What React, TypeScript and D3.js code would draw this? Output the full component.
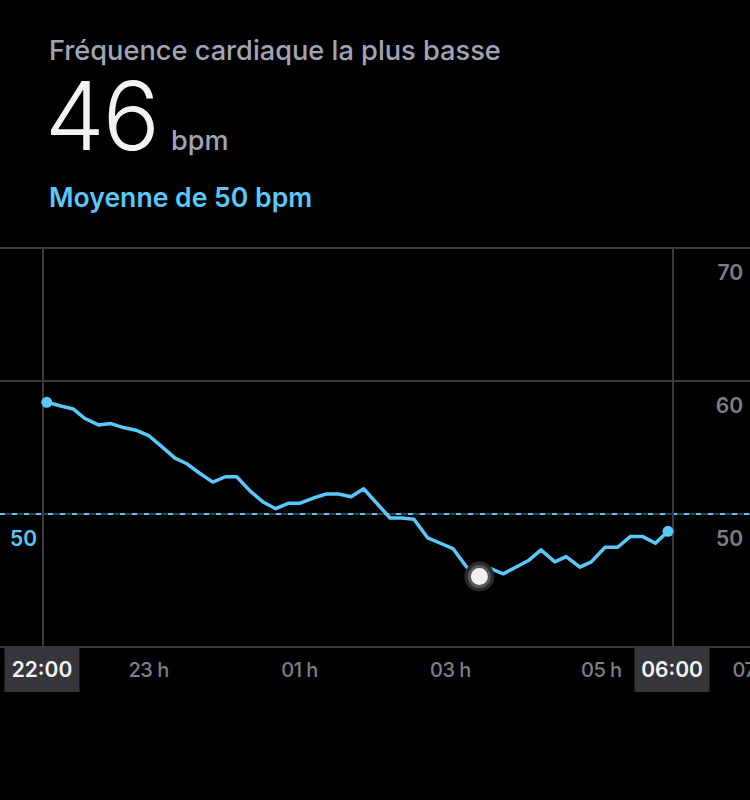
import React from "react";
import * as d3 from "d3";

// minutes after 21:00
const sampleMinutes = [39, 51, 60, 69, 80, 90, 100, 110, 120, 130, 141, 150, 160, 171, 181, 190, 201, 211, 221, 231, 240, 251, 261, 271, 281, 291, 312, 321, 331, 342, 352, 362, 373, 383, 392, 402, 412, 422, 432, 443, 452, 463, 472, 483, 493, 503, 513, 523, 533];
const heartRate = [58.4, 58.1, 57.9, 57.2, 56.7, 56.8, 56.5, 56.3, 55.9, 55.1, 54.2, 53.8, 53.1, 52.4, 52.8, 52.8, 51.7, 50.9, 50.4, 50.8, 50.8, 51.2, 51.5, 51.5, 51.3, 51.9, 49.7, 49.7, 49.6, 48.2, 47.8, 47.4, 46.0, 45.3, 45.9, 45.5, 46.0, 46.5, 47.3, 46.4, 46.8, 46.0, 46.4, 47.5, 47.5, 48.3, 48.3, 47.8, 48.7];

const sessionMinutes = [36, 537];
const sessionLabels = ["22:00", "06:00"];
const hourTickMinutes = [120, 240, 360, 480, 600];
const hourTickLabels = ["23 h", "01 h", "03 h", "05 h", "07 h"];
const gridValues = [40, 50, 60, 70];
const rightLabelValues = [50, 60, 70];
const averageBpm = 50;
const lowestBpm = 46;

const title = "Fréquence cardiaque la plus basse";
const unit = "bpm";
const averageText = "Moyenne de 50 bpm";

const W = 750;
const H = 800;
const BLUE = "#5ac8fa";
const GRID = "#3a3a3e";
const GRAY = "#7e7e84";
const FONT = "Inter, 'Noto Sans', sans-serif";

export default function App() {
  const x = d3.scaleLinear().domain(sessionMinutes).range([43, 673]);
  const y = d3.scaleLinear().domain([40, 70]).range([647, 248]);

  const pts = sampleMinutes.map((m, i) => ({ m, v: heartRate[i] }));
  const line = d3
    .line<{ m: number; v: number }>()
    .x((d) => x(d.m))
    .y((d) => y(d.v))
    .curve(d3.curveLinear);
  const minIdx = d3.minIndex(heartRate);
  const first = pts[0];
  const last = pts[pts.length - 1];

  return (
    <svg
      width={W}
      height={H}
      style={{ position: "absolute", left: 0, top: 0, display: "block" }}
      fontFamily={FONT}
    >
      <rect x={0} y={0} width={W} height={H} fill="#000" />

      {/* header */}
      <text x={49} y={60} fontSize={27.2} fill="#a0a4b4" fontWeight={500}>
        {title}
      </text>
      <text x={45} y={150} fontSize={95} fill="#f2f2f4" fontWeight={300} letterSpacing={-2}>
        {lowestBpm}
      </text>
      <text x={171} y={150} fontSize={27} fill="#a0a4b4" fontWeight={500}>
        {unit}
      </text>
      <text x={49} y={207} fontSize={26.6} fill={BLUE} fontWeight={600}>
        {averageText}
      </text>

      {/* horizontal grid */}
      {gridValues.map((v) => (
        <line key={v} x1={0} x2={W} y1={y(v)} y2={y(v)} stroke={GRID} strokeWidth={2} />
      ))}
      {/* average dashed */}
      <line
        x1={0}
        x2={W}
        y1={y(averageBpm)}
        y2={y(averageBpm)}
        stroke={BLUE}
        strokeWidth={2}
        strokeDasharray="5 7"
      />

      {/* session vertical lines */}
      {sessionMinutes.map((m) => (
        <line key={m} x1={x(m)} x2={x(m)} y1={y(70)} y2={y(40)} stroke={GRID} strokeWidth={2} />
      ))}

      {/* right y labels */}
      {rightLabelValues.map((v) => (
        <text
          key={v}
          x={743}
          y={y(v) + 32}
          textAnchor="end"
          fontSize={21}
          fontWeight={600}
          fill={GRAY}
        >
          {v}
        </text>
      ))}
      <text x={10} y={y(averageBpm) + 32} fontSize={21} fontWeight={600} fill={BLUE}>
        {averageBpm}
      </text>

      {/* x tick labels */}
      {hourTickMinutes.map((m, i) => (
        <text
          key={m}
          x={x(m)}
          y={677}
          textAnchor="middle"
          fontSize={20}
          fontWeight={500}
          fill={GRAY}
          letterSpacing={-0.5}
        >
          {hourTickLabels[i]}
        </text>
      ))}

      {/* session labels */}
      {sessionMinutes.map((m, i) => (
        <g key={"s" + m}>
          <rect x={x(m) - 38.5} y={y(40)} width={75} height={45} fill="#36363a" />
          <text
            x={x(m) - 1}
            y={677}
            textAnchor="middle"
            fontSize={21}
            fontWeight={600}
            fill="#f2f2f4"
          >
            {sessionLabels[i]}
          </text>
        </g>
      ))}

      {/* data line */}
      <path
        d={line(pts) || ""}
        fill="none"
        stroke={BLUE}
        strokeWidth={3.5}
        strokeLinejoin="round"
        strokeLinecap="round"
      />
      <circle cx={x(first.m)} cy={y(first.v)} r={5.5} fill={BLUE} />
      <circle cx={x(last.m)} cy={y(last.v)} r={5.5} fill={BLUE} />

      {/* min marker */}
      <g transform={`translate(${x(pts[minIdx].m)},${y(pts[minIdx].v)})`}>
        <circle r={15} fill="#2a2a2c" />
        <circle r={11.5} fill="#58585c" />
        <circle r={8.5} fill="#f2f2f4" />
      </g>
    </svg>
  );
}
